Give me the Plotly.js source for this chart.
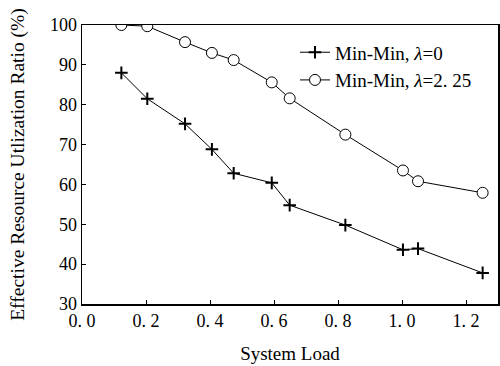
<!DOCTYPE html>
<html><head><meta charset="utf-8">
<script src="https://cdn.plot.ly/plotly-3.0.1.min.js"></script>
<style>html,body{margin:0;padding:0;background:#fff}#chart{width:500px;height:366px}</style>
</head><body><div id="chart"></div>
<script>
const systemLoad = [0.123, 0.204, 0.322, 0.406, 0.474, 0.593, 0.649, 0.823, 1.003, 1.05, 1.252];
const ratioLambda0 = [88.0, 81.5, 75.2, 68.8, 62.8, 60.4, 54.8, 49.8, 43.6, 43.9, 37.8];
const ratioLambda225 = [100.0, 99.7, 95.7, 93.0, 91.2, 85.6, 81.6, 72.5, 63.5, 60.8, 57.9];
const xTickVals = [0, 0.2, 0.4, 0.6, 0.8, 1.0, 1.2];
const xTickText = ["0. 0", "0. 2", "0. 4", "0. 6", "0. 8", "1. 0", "1. 2"];
const yTickVals = [30, 40, 50, 60, 70, 80, 90, 100];

const serif = "Liberation Serif, Times New Roman, serif";
const traces = [
  {x: systemLoad, y: ratioLambda0, mode: "lines+markers", name: "Min-Min, <i>λ</i>=0",
   line: {color: "#000", width: 1},
   marker: {symbol: "cross-thin", size: 9, line: {color: "#000", width: 2}, color: "#000"}},
  {x: systemLoad, y: ratioLambda225, mode: "lines+markers", name: "Min-Min, <i>λ</i>=2. 25",
   line: {color: "#000", width: 1},
   marker: {symbol: "circle", size: 11, color: "#fff", line: {color: "#000", width: 1}}}
];
const layout = {
  width: 500, height: 366,
  margin: {l: 82, r: 2, t: 25, b: 62},
  paper_bgcolor: "#fff", plot_bgcolor: "#fff",
  font: {family: serif, size: 18, color: "#000"},
  showlegend: true,
  legend: {x: 0.512, y: 0.97, xanchor: "left", yanchor: "top", bgcolor: "rgba(0,0,0,0)",
           font: {family: serif, size: 19, color: "#000"}, tracegroupgap: 0},
  xaxis: {range: [0, 1.3], tickvals: xTickVals, ticktext: xTickText, ticks: "inside", ticklen: 4,
          tickcolor: "#000", showline: true, linecolor: "#000", linewidth: 1.5, mirror: true,
          showgrid: false, zeroline: false, tickfont: {size: 18},
          title: {text: "System Load", font: {size: 19}, standoff: 16}},
  yaxis: {range: [30, 100], tickvals: yTickVals, ticks: "inside", ticklen: 4,
          tickcolor: "#000", showline: true, linecolor: "#000", linewidth: 1.5, mirror: true,
          showgrid: false, zeroline: false, tickfont: {size: 18},
          title: {text: "Effective Resource Utlization Ratio (%)", font: {size: 19.5}, standoff: 20}}
};
Plotly.newPlot("chart", traces, layout, {displayModeBar: false, staticPlot: true});
</script></body></html>
